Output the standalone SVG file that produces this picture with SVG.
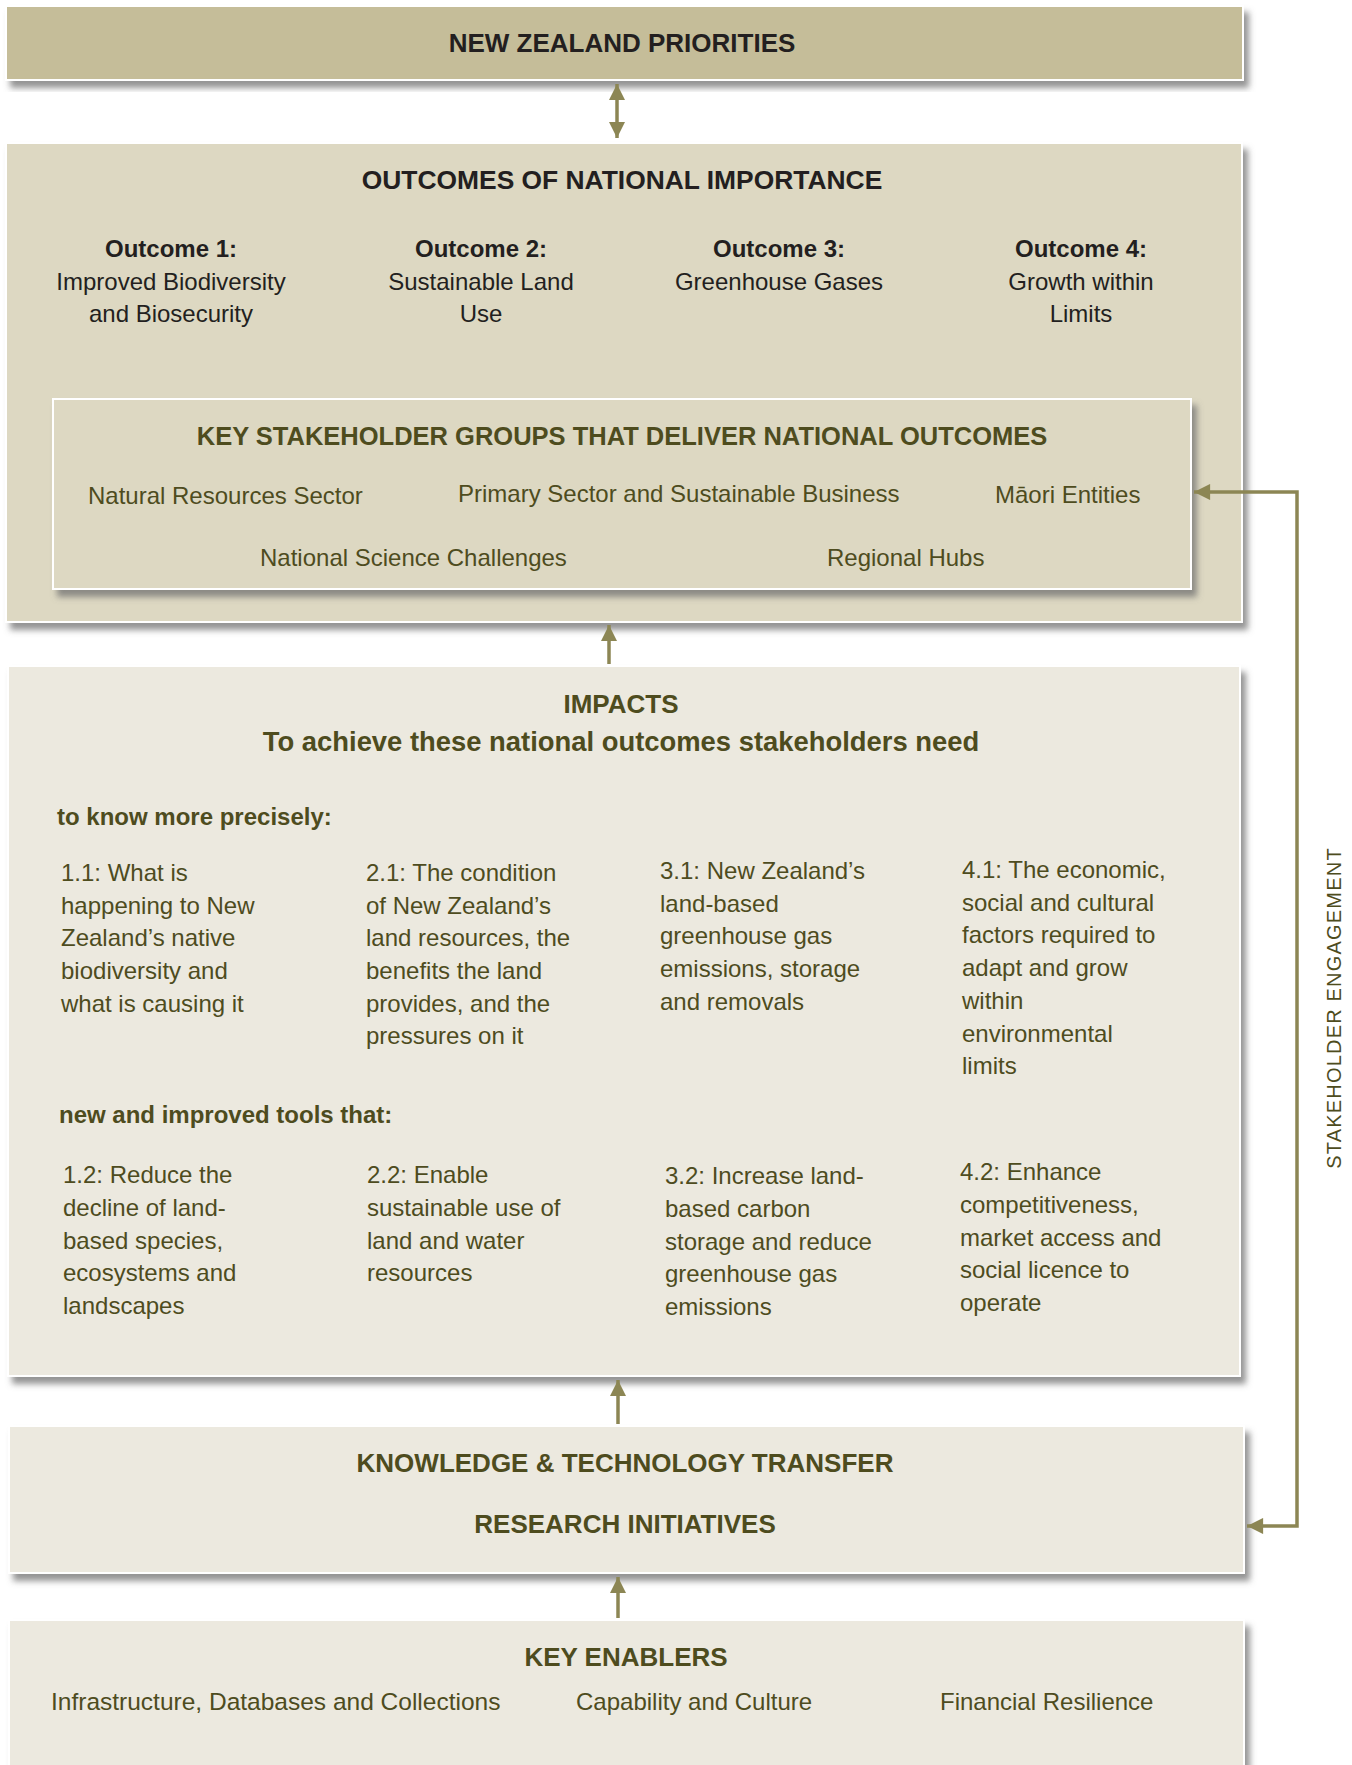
<svg xmlns="http://www.w3.org/2000/svg" width="1352" height="1765" viewBox="0 0 1352 1765">
<defs>
<filter id="sh" x="-5%" y="-5%" width="112%" height="120%">
<feDropShadow dx="5" dy="7" stdDeviation="3" flood-color="#6f6f6f" flood-opacity="0.75"/>
</filter>
<marker id="ah" viewBox="0 0 10 10" refX="10" refY="5" markerWidth="5" markerHeight="4.6" markerUnits="strokeWidth" orient="auto-start-reverse">
<path d="M0,0 L10,5 L0,10 z" fill="#8c8654"/>
</marker>
<style>
text{font-family:"Liberation Sans",Arial,sans-serif;}
.box{stroke:#ffffff;stroke-width:2;filter:url(#sh);}
.dark{fill:#231f20;}
.ol{fill:#4e4c1e;}
.h{font-weight:bold;font-size:26px;text-anchor:middle;}
.b{font-size:24px;}
.c{text-anchor:middle;}
.sub{font-weight:bold;font-size:24px;}
.con{stroke:#8c8654;stroke-width:3.5;fill:none;}
</style>
</defs>
<rect width="1352" height="1765" fill="#ffffff"/>

<g id="nz-priorities">
<rect class="box" x="6" y="6" width="1237" height="74" fill="#c5bd99"/>
<text class="h dark" x="622" y="52">NEW ZEALAND PRIORITIES</text>
</g>

<g id="outcomes">
<rect class="box" x="6" y="143" width="1236" height="479" fill="#ddd8c2"/>
<text class="h dark" x="622" y="189" style="font-size:26.4px">OUTCOMES OF NATIONAL IMPORTANCE</text>
<g class="dark b c">
<text x="171" y="257" font-weight="bold">Outcome 1:</text>
<text x="171" y="290">Improved Biodiversity</text>
<text x="171" y="322">and Biosecurity</text>
<text x="481" y="257" font-weight="bold">Outcome 2:</text>
<text x="481" y="290">Sustainable Land</text>
<text x="481" y="322">Use</text>
<text x="779" y="257" font-weight="bold">Outcome 3:</text>
<text x="779" y="290">Greenhouse Gases</text>
<text x="1081" y="257" font-weight="bold">Outcome 4:</text>
<text x="1081" y="290">Growth within</text>
<text x="1081" y="322">Limits</text>
</g>
</g>

<g id="stakeholders">
<rect class="box" x="53" y="399" width="1138" height="190" fill="#ddd8c2"/>
<text class="ol" x="622" y="445" font-weight="bold" font-size="25.5" text-anchor="middle">KEY STAKEHOLDER GROUPS THAT DELIVER NATIONAL OUTCOMES</text>
<g class="ol b">
<text x="88" y="504">Natural Resources Sector</text>
<text x="458" y="502">Primary Sector and Sustainable Business</text>
<text x="995" y="503">Māori Entities</text>
<text x="260" y="566">National Science Challenges</text>
<text x="827" y="566">Regional Hubs</text>
</g>
</g>

<g id="impacts">
<rect class="box" x="8" y="666" width="1232" height="710" fill="#ece9df"/>
<text class="h ol" x="621" y="713">IMPACTS</text>
<text class="h ol" x="621" y="751" style="font-size:27.4px">To achieve these national outcomes stakeholders need</text>
<text class="sub ol" x="57" y="825">to know more precisely:</text>
<g class="ol b">
<text x="61" y="881">1.1: What is</text>
<text x="61" y="914">happening to New</text>
<text x="61" y="946">Zealand’s native</text>
<text x="61" y="979">biodiversity and</text>
<text x="61" y="1012">what is causing it</text>

<text x="366" y="881">2.1: The condition</text>
<text x="366" y="914">of New Zealand’s</text>
<text x="366" y="946">land resources, the</text>
<text x="366" y="979">benefits the land</text>
<text x="366" y="1012">provides, and the</text>
<text x="366" y="1044">pressures on it</text>

<text x="660" y="879">3.1: New Zealand’s</text>
<text x="660" y="912">land-based</text>
<text x="660" y="944">greenhouse gas</text>
<text x="660" y="977">emissions, storage</text>
<text x="660" y="1010">and removals</text>

<text x="962" y="878">4.1: The economic,</text>
<text x="962" y="911">social and cultural</text>
<text x="962" y="943">factors required to</text>
<text x="962" y="976">adapt and grow</text>
<text x="962" y="1009">within</text>
<text x="962" y="1042">environmental</text>
<text x="962" y="1074">limits</text>
</g>
<text class="sub ol" x="59" y="1123">new and improved tools that:</text>
<g class="ol b">
<text x="63" y="1183">1.2: Reduce the</text>
<text x="63" y="1216">decline of land-</text>
<text x="63" y="1249">based species,</text>
<text x="63" y="1281">ecosystems and</text>
<text x="63" y="1314">landscapes</text>

<text x="367" y="1183">2.2: Enable</text>
<text x="367" y="1216">sustainable use of</text>
<text x="367" y="1249">land and water</text>
<text x="367" y="1281">resources</text>

<text x="665" y="1184">3.2: Increase land-</text>
<text x="665" y="1217">based carbon</text>
<text x="665" y="1250">storage and reduce</text>
<text x="665" y="1282">greenhouse gas</text>
<text x="665" y="1315">emissions</text>

<text x="960" y="1180">4.2: Enhance</text>
<text x="960" y="1213">competitiveness,</text>
<text x="960" y="1246">market access and</text>
<text x="960" y="1278">social licence to</text>
<text x="960" y="1311">operate</text>
</g>
</g>

<g id="knowledge-transfer">
<rect class="box" x="9" y="1426" width="1235" height="147" fill="#ece9df"/>
<text class="h ol" x="625" y="1472">KNOWLEDGE &amp; TECHNOLOGY TRANSFER</text>
<text class="h ol" x="625" y="1533">RESEARCH INITIATIVES</text>
</g>

<g id="key-enablers">
<rect class="box" x="9" y="1620" width="1235" height="170" fill="#ece9df"/>
<text class="h ol" x="626" y="1666">KEY ENABLERS</text>
<g class="ol b">
<text x="51" y="1710" font-size="24.5">Infrastructure, Databases and Collections</text>
<text x="576" y="1710">Capability and Culture</text>
<text x="940" y="1710">Financial Resilience</text>
</g>
</g>

<g id="stakeholder-engagement-label">
<text class="ol" x="1334" y="1008" font-size="20" letter-spacing="1.2" text-anchor="middle" transform="rotate(-90 1334 1008)" dominant-baseline="central">STAKEHOLDER  ENGAGEMENT</text>
</g>

<g id="connectors">
<line class="con" x1="617" y1="84" x2="617" y2="138" marker-start="url(#ah)" marker-end="url(#ah)"/>
<line class="con" x1="609" y1="664" x2="609" y2="625" marker-end="url(#ah)"/>
<line class="con" x1="618" y1="1424" x2="618" y2="1380" marker-end="url(#ah)"/>
<line class="con" x1="618" y1="1618" x2="618" y2="1577" marker-end="url(#ah)"/>
<polyline class="con" points="1247,1526 1297,1526 1297,492 1194,492" marker-start="url(#ah)" marker-end="url(#ah)"/>
</g>
</svg>
